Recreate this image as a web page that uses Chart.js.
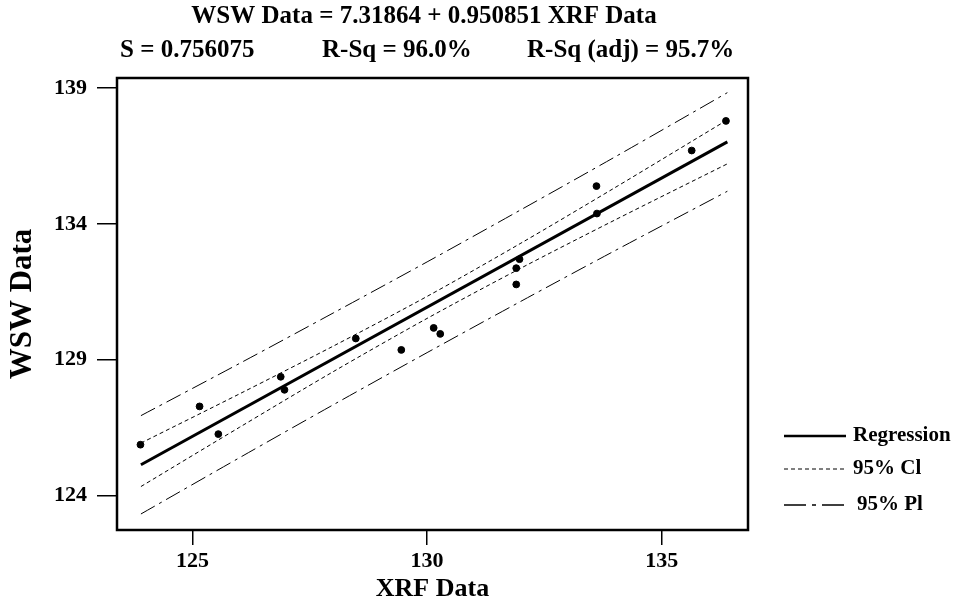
<!DOCTYPE html>
<html>
<head>
<meta charset="utf-8">
<script src="https://cdn.jsdelivr.net/npm/chart.js@4.4.1/dist/chart.umd.min.js"></script>
<style>
  html, body { margin: 0; padding: 0; background: #fff; }
  #wrap { width: 953px; height: 610px; }
</style>
</head>
<body>
<div id="wrap"><canvas id="fitChart"></canvas></div>
<script>
// observed points (XRF vs WSW)
const xrfData = [123.89, 125.15, 125.55, 126.88, 126.96, 128.48, 129.45, 130.14,
                 130.28, 131.90, 131.90, 131.97, 133.61, 133.62, 135.64, 136.37];
const wswData = [125.87, 127.28, 126.26, 128.37, 127.89, 129.78, 129.36, 130.17,
                 129.95, 131.77, 132.37, 132.70, 135.39, 134.38, 136.70, 137.79];

// fitted line ends
const fitX = [123.9, 136.4];
const fitY = [125.13, 137.02];

// band curves read at these x positions
const bandX   = [123.9, 126, 128, 130, 132, 134, 136.4];
const ciUpper = [125.93, 127.74, 129.50, 131.33, 133.29, 135.33, 137.83];
const ciLower = [124.33, 126.51, 128.56, 130.52, 132.37, 134.14, 136.21];
const piUpper = [126.94, 128.86, 130.72, 132.60, 134.52, 136.46, 138.83];
const piLower = [123.32, 125.39, 127.34, 129.26, 131.15, 133.01, 135.20];

const xTicks = [125, 130, 135];
const yTicks = [124, 129, 134, 139];

const titleLine = 'WSW Data = 7.31864 + 0.950851 XRF Data';
const statLabels = ['S = 0.756075', 'R-Sq = 96.0%', 'R-Sq (adj) = 95.7%'];
const legendLabels = ['Regression', '95% Cl', '95% Pl'];

const SERIF = '"Liberation Serif", "DejaVu Serif", serif';
const ciDash = [4, 3];
const piDash = [16, 5, 3, 5];

const pairs = (xs, ys) => xs.map((x, i) => ({ x: x, y: ys[i] }));

const bandStyle = (dash) => ({
  borderColor: '#000',
  borderWidth: 1,
  borderDash: dash,
  pointRadius: 0,
  tension: 0.3,
  fill: false
});

// frame, header text and legend
const decor = {
  id: 'decor',
  afterDraw(chart) {
    const ctx = chart.ctx;
    const a = chart.chartArea;
    ctx.save();
    ctx.strokeStyle = '#000';
    ctx.lineWidth = 2.5;
    ctx.setLineDash([]);
    ctx.strokeRect(a.left, a.top, a.right - a.left, a.bottom - a.top);

    ctx.fillStyle = '#000';
    ctx.textBaseline = 'middle';
    ctx.font = 'bold 25px ' + SERIF;
    ctx.textAlign = 'center';
    ctx.fillText(titleLine, 424, 17);
    ctx.textAlign = 'left';
    const statX = [120, 322, 527];
    statLabels.forEach((t, i) => ctx.fillText(t, statX[i], 51));

    const rows = [436, 469, 505];
    const dashes = [[], ciDash, [22, 6, 4, 6]];
    const widths = [2.5, 1, 1.5];
    const textX = [853, 853, 857];
    ctx.font = 'bold 21px ' + SERIF;
    legendLabels.forEach((t, i) => {
      ctx.beginPath();
      ctx.setLineDash(dashes[i]);
      ctx.lineWidth = widths[i];
      ctx.moveTo(784, rows[i]);
      ctx.lineTo(846, rows[i]);
      ctx.stroke();
      ctx.fillText(t, textX[i], rows[i]);
    });
    ctx.restore();
  }
};

new Chart(document.getElementById('fitChart'), {
  type: 'scatter',
  data: {
    datasets: [
      { label: 'Data', data: pairs(xrfData, wswData), backgroundColor: '#000',
        borderColor: '#000', pointRadius: 3.4, showLine: false },
      { label: 'Regression', data: pairs(fitX, fitY), showLine: true,
        borderColor: '#000', borderWidth: 3, pointRadius: 0 },
      Object.assign({ label: '95% CI up', data: pairs(bandX, ciUpper), showLine: true }, bandStyle(ciDash)),
      Object.assign({ label: '95% CI low', data: pairs(bandX, ciLower), showLine: true }, bandStyle(ciDash)),
      Object.assign({ label: '95% PI up', data: pairs(bandX, piUpper), showLine: true }, bandStyle(piDash)),
      Object.assign({ label: '95% PI low', data: pairs(bandX, piLower), showLine: true }, bandStyle(piDash))
    ]
  },
  options: {
    responsive: true,
    maintainAspectRatio: false,
    animation: false,
    layout: { padding: { left: 0, right: 205, top: 78, bottom: 0 } },
    plugins: { legend: { display: false }, tooltip: { enabled: false } },
    scales: {
      x: {
        type: 'linear',
        min: 123.39,
        max: 136.84,
        afterBuildTicks: s => { s.ticks = xTicks.map(v => ({ value: v })); },
        afterFit: s => { s.height = 80; },
        grid: { drawOnChartArea: false, drawTicks: true, tickLength: 15, color: '#000', lineWidth: 1.5 },
        border: { display: false },
        ticks: { color: '#000', padding: 3, font: { family: SERIF, size: 22, weight: 'bold' } },
        title: { display: true, text: 'XRF Data', color: '#000', padding: { top: 0, bottom: 5 },
                 font: { family: SERIF, size: 26, weight: 'bold' } }
      },
      y: {
        type: 'linear',
        min: 122.73,
        max: 139.37,
        afterBuildTicks: s => { s.ticks = yTicks.map(v => ({ value: v })); },
        afterFit: s => { s.width = 117; },
        grid: { drawOnChartArea: false, drawTicks: true, tickLength: 20, color: '#000', lineWidth: 1.5 },
        border: { display: false },
        ticks: { color: '#000', padding: 10, font: { family: SERIF, size: 22, weight: 'bold' } },
        title: { display: true, text: 'WSW Data', color: '#000', padding: { top: 4, bottom: 0 },
                 font: { family: SERIF, size: 31, weight: 'bold' } }
      }
    }
  },
  plugins: [decor]
});
</script>
</body>
</html>
